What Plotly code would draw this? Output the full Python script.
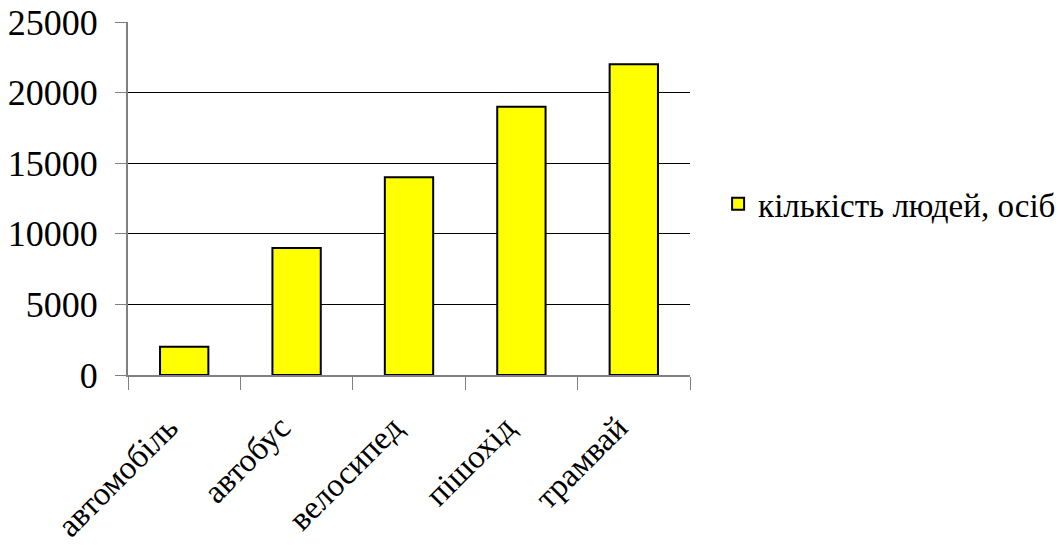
import plotly.graph_objects as go

categories = ["автомобіль", "автобус", "велосипед", "пішохід", "трамвай"]
values = [2000, 9000, 14000, 19000, 22000]
series_name = "кількість людей, осіб"
y_ticks = [0, 5000, 10000, 15000, 20000, 25000]

font_family = "Liberation Serif"

fig = go.Figure()
fig.add_trace(go.Bar(
    x=categories, y=values, name=series_name,
    marker=dict(color="#FFFF00", line=dict(color="#000000", width=2)),
    showlegend=True,
))

fig.update_layout(
    width=1061, height=545,
    margin=dict(l=128, r=371, t=22, b=170, autoexpand=False),
    paper_bgcolor="white", plot_bgcolor="white",
    font=dict(family=font_family, color="black"),
    bargap=0.57,
    showlegend=True,
    legend=dict(x=1.05, y=0.485, xanchor="left", yanchor="middle",
                font=dict(size=33, family=font_family), itemwidth=30,
                bgcolor="rgba(0,0,0,0)"),
)
fig.update_xaxes(
    type="category", tickangle=-45, tickfont=dict(size=33, family=font_family),
    showline=True, linecolor="#808080", linewidth=2,
    ticks="outside", tickson="boundaries", ticklen=13, tickcolor="#808080", tickwidth=1,
    showgrid=False, ticklabelstandoff=18, ticklabelshift=-16, automargin=False,
)
fig.update_yaxes(
    range=[0, 25000], tickvals=y_ticks, ticktext=[str(v) for v in y_ticks],
    tickfont=dict(size=36, family=font_family),
    showline=True, linecolor="#808080", linewidth=2,
    ticks="outside", ticklen=11, tickcolor="#808080", tickwidth=1,
    showgrid=True, gridcolor="#000000", gridwidth=1,
    zeroline=False, ticklabelstandoff=10, automargin=False,
)

fig.write_html("out.html")
